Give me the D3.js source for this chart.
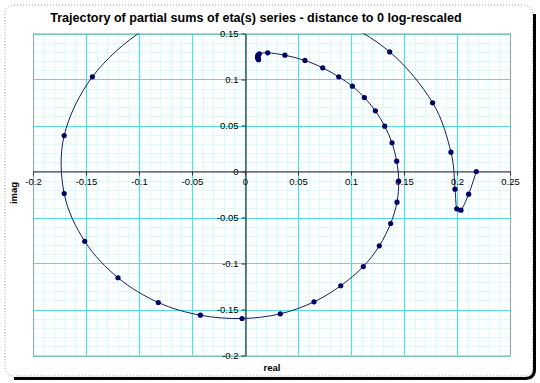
<!DOCTYPE html>
<html>
<head>
<meta charset="utf-8">
<script src="https://cdn.jsdelivr.net/npm/d3@7"></script>
<style>
  html, body { margin: 0; padding: 0; background: #ffffff; }
  svg { display: block; font-family: "Liberation Sans", Arial, sans-serif; }
</style>
</head>
<body>
<svg id="chart" width="540" height="383"></svg>
<script>
// ---- data ----
const chartTitle = "Trajectory of partial sums of eta(s) series - distance to 0 log-rescaled";
const xAxisTitle = "real";
const yAxisTitle = "imag";

const realValues = [
  0.2182, 0.2110, 0.2038, 0.1997, 0.1981, 0.1943, 0.1770, 0.1365,
  0.0815, 0.0192, -0.0410, -0.0959,
  -0.1440, -0.1706, -0.1706, -0.1512, -0.1198, -0.0818, -0.0421, -0.0028,
  0.0333, 0.0651, 0.0903, 0.1116, 0.1267, 0.1374, 0.1434, 0.1450,
  0.1431, 0.1387, 0.1318, 0.1230, 0.1126, 0.1013, 0.0884, 0.0733,
  0.0566, 0.0377, 0.0214,
  0.0135, 0.0122, 0.0118, 0.0120, 0.0124, 0.0128, 0.0126, 0.0123
];
const imagValues = [
  0.0000, -0.0247, -0.0420, -0.0406, -0.0192, 0.0210, 0.0747, 0.1300,
  0.1672, 0.1830, 0.1773, 0.1535,
  0.1029, 0.0391, -0.0239, -0.0758, -0.1155, -0.1424, -0.1562, -0.1598,
  -0.1547, -0.1417, -0.1242, -0.1033, -0.0808, -0.0565, -0.0333, -0.0105,
  0.0112, 0.0312, 0.0493, 0.0659, 0.0804, 0.0927, 0.1029, 0.1127,
  0.1207, 0.1264, 0.1290,
  0.1280, 0.1265, 0.1250, 0.1235, 0.1222, 0.1215, 0.1225, 0.1240
];

const xTickValues = [-0.2, -0.15, -0.1, -0.05, 0, 0.05, 0.1, 0.15, 0.2, 0.25];
const xTickLabels = ["-0.2", "-0.15", "-0.1", "-0.05", "0", "0.05", "0.1", "0.15", "0.2", "0.25"];
const yTickValues = [-0.2, -0.15, -0.1, -0.05, 0, 0.05, 0.1, 0.15];
const yTickLabels = ["-0.2", "-0.15", "-0.1", "-0.05", "0", "0.05", "0.1", "0.15"];
const xDomain = [-0.2, 0.25];
const yDomain = [-0.2, 0.15];
const minorStep = 0.01;

// ---- drawing ----
const svg = d3.select("#chart");
const plot = { left: 33, right: 510, top: 33.5, bottom: 355.5 };

const x = d3.scaleLinear().domain(xDomain).range([plot.left, plot.right]);
const y = d3.scaleLinear().domain(yDomain).range([plot.bottom, plot.top]);

// chart frame: dotted light edge + dark shadow on right / bottom
svg.append("rect")
  .attr("x", 5).attr("y", 5).attr("width", 528).attr("height", 371)
  .attr("rx", 9).attr("ry", 9)
  .attr("fill", "#ffffff")
  .attr("stroke", "#9a9a9a").attr("stroke-width", 1)
  .attr("stroke-dasharray", "1,2");
svg.append("path")
  .attr("d", "M534.5,14 L534.5,369 Q534.5,378.5 525,378.5 L14,378.5")
  .attr("fill", "none").attr("stroke", "#000").attr("stroke-width", 3);

// plot area
svg.append("rect")
  .attr("x", plot.left).attr("y", plot.top)
  .attr("width", plot.right - plot.left).attr("height", plot.bottom - plot.top)
  .attr("fill", "#fbffff");

const nx = Math.round((xDomain[1] - xDomain[0]) / minorStep);
const ny = Math.round((yDomain[1] - yDomain[0]) / minorStep);
const xMinor = d3.range(nx + 1).map(i => xDomain[0] + i * minorStep);
const yMinor = d3.range(ny + 1).map(i => yDomain[0] + i * minorStep);

const grid = svg.append("g");
grid.selectAll("line.vmin").data(xMinor).join("line")
  .attr("x1", d => Math.round(x(d)) + 0.5).attr("x2", d => Math.round(x(d)) + 0.5)
  .attr("y1", plot.top).attr("y2", plot.bottom)
  .attr("stroke", "#e2f8f8").attr("stroke-width", 1);
grid.selectAll("line.hmin").data(yMinor).join("line")
  .attr("y1", d => Math.round(y(d)) + 0.5).attr("y2", d => Math.round(y(d)) + 0.5)
  .attr("x1", plot.left).attr("x2", plot.right)
  .attr("stroke", "#e2f8f8").attr("stroke-width", 1);
grid.selectAll("line.vmaj").data(xTickValues).join("line")
  .attr("x1", d => Math.round(x(d)) + 0.5).attr("x2", d => Math.round(x(d)) + 0.5)
  .attr("y1", plot.top).attr("y2", plot.bottom)
  .attr("stroke", "#55dede").attr("stroke-width", 1.2);
grid.selectAll("line.hmaj").data(yTickValues).join("line")
  .attr("y1", d => Math.round(y(d)) + 0.5).attr("y2", d => Math.round(y(d)) + 0.5)
  .attr("x1", plot.left).attr("x2", plot.right)
  .attr("stroke", "#55dede").attr("stroke-width", 1.2);

svg.append("rect")
  .attr("x", plot.left + 0.5).attr("y", plot.top + 0.5)
  .attr("width", plot.right - plot.left).attr("height", plot.bottom - plot.top)
  .attr("fill", "none").attr("stroke", "#a6a6a6").attr("stroke-width", 1);

// axes crossing at origin
const xAxis = d3.axisBottom(x).tickValues(xTickValues)
  .tickFormat((d, i) => xTickLabels[i]).tickSizeInner(4).tickSizeOuter(0).tickPadding(3);
const yAxis = d3.axisLeft(y).tickValues(yTickValues)
  .tickFormat((d, i) => yTickLabels[i]).tickSizeInner(4).tickSizeOuter(0).tickPadding(3);

const gx = svg.append("g").attr("transform", `translate(0,${Math.round(y(0)) + 0.5})`).call(xAxis);
const gy = svg.append("g").attr("transform", `translate(${Math.round(x(0)) + 0.5},0)`).call(yAxis);
[gx, gy].forEach(g => {
  g.select(".domain").attr("stroke", "#333").attr("stroke-width", 1.2);
  g.selectAll(".tick line").attr("stroke", "#333");
  g.selectAll(".tick text").attr("fill", "#000")
    .style("font-family", "'Liberation Sans', Arial, sans-serif").style("font-size", "9.5px");
});

// series
const pts = realValues.map((r, i) => [r, imagValues[i]]);
svg.append("clipPath").attr("id", "clip").append("rect")
  .attr("x", plot.left).attr("y", plot.top)
  .attr("width", plot.right - plot.left).attr("height", plot.bottom - plot.top);

const series = svg.append("g").attr("clip-path", "url(#clip)");
const line = d3.line().x(d => x(d[0])).y(d => y(d[1])).curve(d3.curveCardinal.tension(0));
series.append("path").datum(pts)
  .attr("d", line).attr("fill", "none")
  .attr("stroke", "#1c1c5c").attr("stroke-width", 1);
series.selectAll("circle").data(pts).join("circle")
  .attr("cx", d => x(d[0])).attr("cy", d => y(d[1])).attr("r", 2.6)
  .attr("fill", "#000066");

// titles
svg.append("text").attr("x", 256).attr("y", 22).attr("text-anchor", "middle")
  .style("font-weight", "bold").style("font-size", "12.6px").attr("fill", "#000")
  .text(chartTitle);
svg.append("text").attr("x", 272).attr("y", 371).attr("text-anchor", "middle")
  .style("font-weight", "bold").style("font-size", "9.5px").attr("fill", "#000")
  .text(xAxisTitle);
svg.append("text").attr("transform", "translate(17,193) rotate(-90)").attr("text-anchor", "middle")
  .style("font-weight", "bold").style("font-size", "9.5px").attr("fill", "#000")
  .text(yAxisTitle);
</script>
</body>
</html>
